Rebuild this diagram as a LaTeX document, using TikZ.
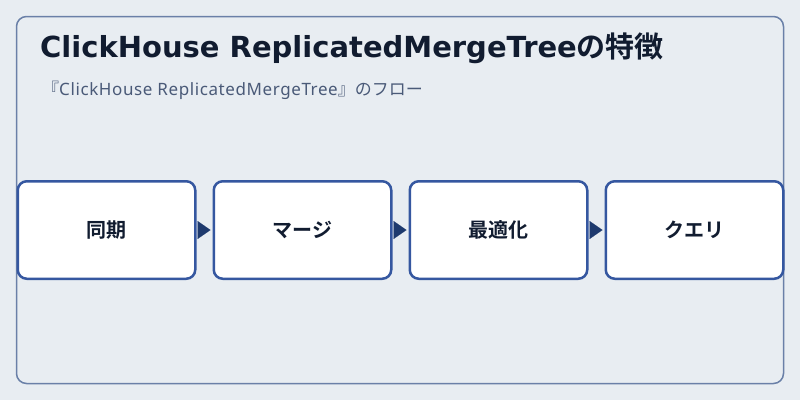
\documentclass[tikz,border=0pt]{standalone}
\usepackage{fontspec}
\setmainfont{Noto Sans CJK JP}
\newfontfamily\jpbold{Noto Sans CJK JP Bold}
\newfontfamily\latbold{DejaVu Sans Bold}
\newfontfamily\latreg[LetterSpace=3.5]{Noto Sans}
\usetikzlibrary{arrows.meta}
\definecolor{bg}{HTML}{E8EDF2}
\definecolor{frame}{HTML}{6A80A8}
\definecolor{boxline}{HTML}{3557A0}
\definecolor{arrowc}{HTML}{1E3A6E}
\definecolor{titlec}{HTML}{111C30}
\definecolor{subc}{HTML}{4A5A78}
\begin{document}
\begin{tikzpicture}[x=1pt,y=-1pt,
  stepbox/.style={draw=boxline,line width=2.5pt,fill=white,rounded corners=9pt,
    minimum width=177.5pt,minimum height=97.5pt,inner sep=0pt,font=\jpbold\fontsize{20}{24}\selectfont,text=titlec},
  flow/.style={draw=arrowc,line width=0.1pt,-{Triangle[length=13pt,width=18pt]},shorten >=2pt,shorten <=2pt,arrowc}]
\fill[bg] (0,0) rectangle (800,400);
\useasboundingbox (0,0) rectangle (800,400);
\draw[frame,line width=1.5pt,rounded corners=10pt] (16.5,16.5) rectangle (783.5,383.5);
\node[anchor=base west,inner sep=0pt,text=titlec,font=\fontsize{29}{33}\selectfont] (title) at (40,57) {{\latbold ClickHouse ReplicatedMergeTree}{\jpbold の特徴}};
\node[anchor=base west,inner sep=0pt,text=subc,font=\fontsize{17}{20}\selectfont] (sub) at (42,95) {『{\latreg ClickHouse ReplicatedMergeTree}』のフロー};
\node[stepbox] (s1) at (106.5,230) {同期};
\node[stepbox] (s2) at (302.5,230) {マージ};
\node[stepbox] (s3) at (498.5,230) {最適化};
\node[stepbox] (s4) at (694.5,230) {クエリ};
\draw[flow] (s1) -- (s2);
\draw[flow] (s2) -- (s3);
\draw[flow] (s3) -- (s4);
\end{tikzpicture}
\end{document}
